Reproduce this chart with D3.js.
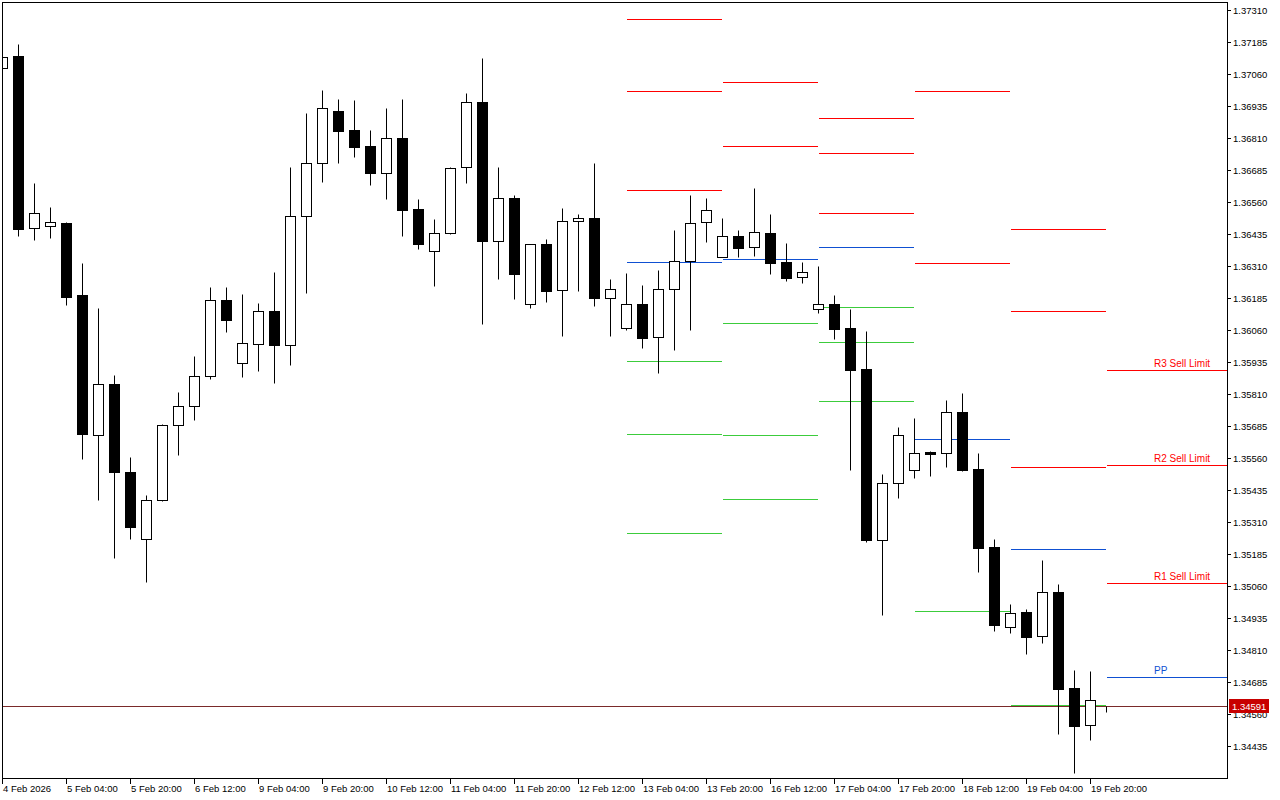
<!DOCTYPE html>
<html>
<head>
<meta charset="utf-8">
<script src="https://cdn.jsdelivr.net/npm/d3@7"></script>
<style>
body { margin: 0; background: #fff; }
svg { display: block; }
text { font-family: "Liberation Sans", Arial, sans-serif; }
</style>
</head>
<body>
<div class="chart"></div>
<script>
// H4 candles, oldest first (4 Feb 12:00 .. 20 Feb 00:00)
var opens = [1.37083, 1.37130, 1.36458, 1.36466, 1.36478, 1.36197, 1.35650, 1.35849, 1.35505, 1.35244,
    1.35396, 1.35689, 1.35763, 1.35880, 1.36177, 1.35931, 1.36005, 1.36134, 1.36001, 1.36505,
    1.36712, 1.36915, 1.36841, 1.36779, 1.36673, 1.36810, 1.36533, 1.36369, 1.36439, 1.36697,
    1.36951, 1.36408, 1.36576, 1.36162, 1.36396, 1.36216, 1.36486, 1.36498, 1.36185, 1.36068,
    1.36162, 1.36033, 1.36220, 1.36330, 1.36482, 1.36345, 1.36427, 1.36384, 1.36439, 1.36326,
    1.36267, 1.36142, 1.36162, 1.36068, 1.35908, 1.35240, 1.35462, 1.35513, 1.35583, 1.35580,
    1.35740, 1.35517, 1.35212, 1.34900, 1.34958, 1.34865, 1.35037, 1.34662, 1.34517, 1.34591];
var highs = [1.37130, 1.37177, 1.36634, 1.36540, 1.36482, 1.36322, 1.36146, 1.35884, 1.35564, 1.35415,
    1.35693, 1.35818, 1.35958, 1.36228, 1.36228, 1.36201, 1.36165, 1.36287, 1.36697, 1.36908,
    1.36998, 1.36962, 1.36958, 1.36841, 1.36927, 1.36962, 1.36572, 1.36494, 1.36697, 1.36986,
    1.37123, 1.36697, 1.36587, 1.36396, 1.36415, 1.36537, 1.36513, 1.36712, 1.36259, 1.36283,
    1.36236, 1.36294, 1.36451, 1.36587, 1.36576, 1.36498, 1.36451, 1.36615, 1.36513, 1.36400,
    1.36326, 1.36310, 1.36197, 1.36142, 1.36056, 1.35498, 1.35681, 1.35716, 1.35587, 1.35787,
    1.35814, 1.35580, 1.35244, 1.34990, 1.34970, 1.35162, 1.35068, 1.34732, 1.34728, 1.34591];
var lows = [1.37080, 1.36427, 1.36412, 1.36419, 1.36158, 1.35556, 1.35396, 1.35169, 1.35244, 1.35076,
    1.35392, 1.35572, 1.35708, 1.35869, 1.36052, 1.35876, 1.35900, 1.35853, 1.35923, 1.36205,
    1.36638, 1.36712, 1.36736, 1.36626, 1.36572, 1.36427, 1.36376, 1.36232, 1.36435, 1.36634,
    1.36083, 1.36259, 1.36181, 1.36146, 1.36169, 1.36037, 1.36212, 1.36154, 1.36037, 1.36060,
    1.35990, 1.35892, 1.35982, 1.36060, 1.36404, 1.36345, 1.36345, 1.36349, 1.36279, 1.36251,
    1.36244, 1.36126, 1.36025, 1.35513, 1.35232, 1.34947, 1.35404, 1.35482, 1.35490, 1.35525,
    1.35509, 1.35115, 1.34884, 1.34876, 1.34794, 1.34837, 1.34482, 1.34330, 1.34458, 1.34568];
var closes = [1.37126, 1.36455, 1.36517, 1.36482, 1.36189, 1.35654, 1.35849, 1.35505, 1.35290, 1.35396,
    1.35689, 1.35763, 1.35880, 1.36177, 1.36099, 1.36009, 1.36134, 1.36001, 1.36505, 1.36712,
    1.36927, 1.36837, 1.36775, 1.36673, 1.36810, 1.36529, 1.36396, 1.36439, 1.36693, 1.36951,
    1.36408, 1.36576, 1.36279, 1.36396, 1.36212, 1.36486, 1.36498, 1.36185, 1.36220, 1.36162,
    1.36029, 1.36220, 1.36330, 1.36478, 1.36529, 1.36427, 1.36380, 1.36443, 1.36322, 1.36263,
    1.36287, 1.36162, 1.36064, 1.35904, 1.35240, 1.35462, 1.35650, 1.35580, 1.35576, 1.35740,
    1.35513, 1.35208, 1.34908, 1.34955, 1.34861, 1.35037, 1.34658, 1.34513, 1.34615, 1.34591];

// time labels, one every 4 bars
var timeLabels = ["4 Feb 2026", "5 Feb 04:00", "5 Feb 20:00", "6 Feb 12:00", "9 Feb 04:00", "9 Feb 20:00",
    "10 Feb 12:00", "11 Feb 04:00", "11 Feb 20:00", "12 Feb 12:00", "13 Feb 04:00", "13 Feb 20:00",
    "16 Feb 12:00", "17 Feb 04:00", "17 Feb 20:00", "18 Feb 12:00", "19 Feb 04:00", "19 Feb 20:00"];

var priceTicks = ["1.37310", "1.37185", "1.37060", "1.36935", "1.36810", "1.36685", "1.36560", "1.36435",
    "1.36310", "1.36185", "1.36060", "1.35935", "1.35810", "1.35685", "1.35560", "1.35435", "1.35310",
    "1.35185", "1.35060", "1.34935", "1.34810", "1.34685", "1.34560", "1.34435"];

var lastPrice = 1.34591;

// daily pivot levels (null = off the chart)
var pivotStart = [39, 45, 51, 57, 63, 69];
var pivotR3 = [1.37275, null, 1.36888, null, 1.36455, 1.35904];
var pivotR2 = [1.36994, 1.37029, 1.36751, 1.36994, 1.36134, 1.35533];
var pivotR1 = [1.36607, 1.36779, 1.36517, 1.36322, 1.35525, 1.35072];
var pivotPP = [1.36326, 1.36337, 1.36384, 1.35634, 1.35205, 1.34705];
var pivotS1 = [1.35939, 1.36087, 1.36150, 1.34962, 1.34595, null];
var pivotS2 = [1.35654, 1.35650, 1.36013, null, null, null];
var pivotS3 = [1.35267, 1.35400, 1.35783, null, null, null];
var levelLabels = ["R3 Sell Limit", "R2 Sell Limit", "R1 Sell Limit", "PP"];

// set the dimensions of the plot box
var width = 1280, height = 800;
var plot = {left: 2, top: 2, right: 1227, bottom: 778};

// set the ranges
var x = d3.scaleLinear().domain([0, 76.53]).range([2.5, 1227]);
var y = d3.scaleLinear().domain([1.3431, 1.373413]).range([plot.bottom, plot.top]);

// snap to pixel centres so 1px lines stay crisp
var px = function(v) { return Math.round(y(v)) + 0.5; };

var svg = d3.select(".chart").append("svg")
    .attr("width", width)
    .attr("height", height);

svg.append("clipPath").attr("id", "clip")
    .append("rect")
    .attr("x", plot.left + 1).attr("y", plot.top + 1)
    .attr("width", plot.right - plot.left - 1)
    .attr("height", plot.bottom - plot.top - 1);

var g = svg.append("g").attr("clip-path", "url(#clip)");

// pivot segments
var levels = [
    {vals: pivotR3, color: "#ff0000"},
    {vals: pivotR2, color: "#ff0000"},
    {vals: pivotR1, color: "#ff0000"},
    {vals: pivotPP, color: "#0f50d2"},
    {vals: pivotS1, color: "#3ccc3c"},
    {vals: pivotS2, color: "#3ccc3c"},
    {vals: pivotS3, color: "#3ccc3c"}
];
var segs = [];
levels.forEach(function(l) {
    l.vals.forEach(function(v, i) {
        if (v === null) return;
        var x0 = Math.round(x(pivotStart[i]));
        var x1 = i < pivotStart.length - 1 ? Math.round(x(pivotStart[i + 1])) - 1 : plot.right;
        segs.push({x0: x0, x1: x1, v: v, color: l.color});
    });
});
g.selectAll(".pivot")
    .data(segs)
    .enter()
    .append("line")
    .attr("class", "pivot")
    .attr("x1", function(d) { return d.x0; })
    .attr("x2", function(d) { return d.x1; })
    .attr("y1", function(d) { return px(d.v); })
    .attr("y2", function(d) { return px(d.v); })
    .attr("stroke", function(d) { return d.color; })
    .attr("stroke-width", 1);

// current price line
g.append("line")
    .attr("x1", plot.left).attr("x2", plot.right)
    .attr("y1", px(lastPrice)).attr("y2", px(lastPrice))
    .attr("stroke", "#7a2a2a").attr("stroke-width", 1);

// candles
var bars = d3.range(opens.length).map(function(i) {
    return {i: i, o: opens[i], h: highs[i], l: lows[i], c: closes[i]};
});
var candle = g.selectAll(".candle")
    .data(bars)
    .enter()
    .append("g")
    .attr("class", "candle");

candle.append("line")
    .attr("x1", function(d) { return Math.floor(x(d.i)) + 0.5; })
    .attr("x2", function(d) { return Math.floor(x(d.i)) + 0.5; })
    .attr("y1", function(d) { return px(d.h); })
    .attr("y2", function(d) { return px(d.l); })
    .attr("stroke", "#000").attr("stroke-width", 1);

candle.append("rect")
    .attr("x", function(d) { return Math.floor(x(d.i)) + 0.5 - 5; })
    .attr("width", 10)
    .attr("y", function(d) { return px(Math.max(d.o, d.c)); })
    .attr("height", function(d) { return px(Math.min(d.o, d.c)) - px(Math.max(d.o, d.c)); })
    .attr("fill", function(d) { return d.c >= d.o ? "#fff" : "#000"; })
    .attr("stroke", "#000").attr("stroke-width", 1);

// level labels for the current day
var lastIdx = pivotStart.length - 1;
var labelVals = [pivotR3[lastIdx], pivotR2[lastIdx], pivotR1[lastIdx], pivotPP[lastIdx]];
g.selectAll(".lvl")
    .data(labelVals)
    .enter()
    .append("text")
    .attr("class", "lvl")
    .attr("x", 1154)
    .attr("y", function(d) { return px(d) - 4; })
    .attr("fill", function(d, i) { return i < 3 ? "#ff0000" : "#0f50d2"; })
    .style("font-size", "10px")
    .text(function(d, i) { return levelLabels[i]; });

// frame
svg.append("rect")
    .attr("x", plot.left + 0.5).attr("y", plot.top + 0.5)
    .attr("width", plot.right - plot.left).attr("height", plot.bottom - plot.top)
    .attr("fill", "none").attr("stroke", "#000").attr("stroke-width", 1);

// price axis (right)
var yAxis = svg.append("g").attr("class", "yaxis");
priceTicks.forEach(function(t) {
    var yy = px(+t);
    yAxis.append("line")
        .attr("x1", plot.right + 0.5).attr("x2", plot.right + 4)
        .attr("y1", yy).attr("y2", yy)
        .attr("stroke", "#000");
    yAxis.append("text")
        .attr("x", plot.right + 6).attr("y", yy + 3.5)
        .style("font-size", "9.5px")
        .attr("fill", "#000")
        .text(t);
});

// last price tag
var ly = px(lastPrice);
svg.append("rect")
    .attr("x", plot.right + 2).attr("y", ly - 7.5)
    .attr("width", 40).attr("height", 14)
    .attr("fill", "#c80000");
svg.append("text")
    .attr("x", plot.right + 5).attr("y", ly + 3.5)
    .style("font-size", "9.5px")
    .attr("fill", "#fff")
    .text(d3.format(".5f")(lastPrice));

// time axis (bottom)
var xAxis = svg.append("g").attr("class", "xaxis");
timeLabels.forEach(function(t, j) {
    var xx = Math.floor(x(j * 4)) + 0.5;
    xAxis.append("line")
        .attr("x1", xx).attr("x2", xx)
        .attr("y1", plot.bottom + 0.5).attr("y2", plot.bottom + 6)
        .attr("stroke", "#000");
    xAxis.append("text")
        .attr("x", xx + 0.5).attr("y", plot.bottom + 14)
        .style("font-size", "9.5px")
        .attr("fill", "#000")
        .text(t);
});
</script>
</body>
</html>
